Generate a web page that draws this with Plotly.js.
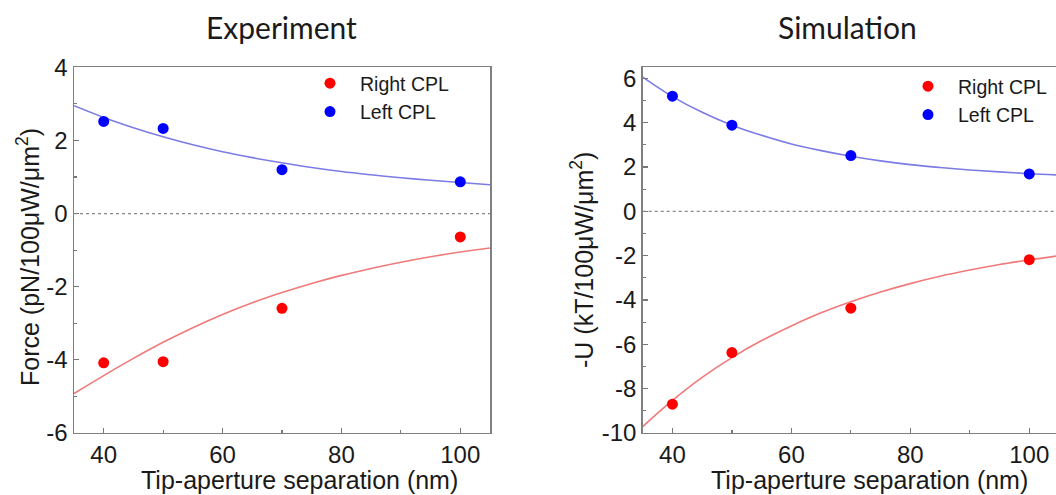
<!DOCTYPE html>
<html>
<head>
<meta charset="utf-8">
<script src="https://cdn.plot.ly/plotly-3.0.1.min.js"></script>
<style>
html,body{margin:0;padding:0;background:#fff;overflow:hidden;}
#chart{width:1070px;height:495px;}
</style>
</head>
<body>
<div id="chart"></div>
<script>
// Measured points
const separation = [40, 50, 70, 100];
const expRight = [-4.08, -4.05, -2.59, -0.64];
const expLeft = [2.52, 2.33, 1.20, 0.87];
const simRight = [-8.70, -6.37, -4.37, -2.18];
const simLeft = [5.20, 3.89, 2.52, 1.69];

// Fit curves
const fitX = [35, 40, 45, 50, 55, 60, 65, 70, 75, 80, 85, 90, 95, 100, 105];
const expLeftFit = [2.95, 2.63, 2.35, 2.10, 1.88, 1.69, 1.53, 1.39, 1.26, 1.15, 1.06, 0.98, 0.91, 0.85, 0.79];
const expRightFit = [-4.92, -4.43, -3.96, -3.52, -3.12, -2.76, -2.44, -2.16, -1.91, -1.69, -1.50, -1.33, -1.18, -1.05, -0.94];
const simLeftFit = [6.06, 5.18, 4.47, 3.89, 3.43, 3.04, 2.74, 2.49, 2.28, 2.11, 1.98, 1.87, 1.78, 1.70, 1.64];
const simRightFit = [-9.71, -8.53, -7.49, -6.60, -5.83, -5.17, -4.58, -4.08, -3.64, -3.26, -2.93, -2.65, -2.40, -2.19, -2.00];

// Tick labels
const xTickVals = [40, 60, 80, 100];
const xTickText = ['40', '60', '80', '100'];
const expYTickVals = [-6, -4, -2, 0, 2, 4];
const expYTickText = ['-6', '-4', '-2', '0', '2', '4'];
const simYTickVals = [-10, -8, -6, -4, -2, 0, 2, 4, 6];
const simYTickText = ['-10', '-8', '-6', '-4', '-2', '0', '2', '4', '6'];

const seriesNames = ['Right CPL', 'Left CPL'];
const panelTitles = ['Experiment', 'Simulation'];
const xTitle = 'Tip-aperture separation (nm)';
const yTitles = ['Force (pN/100μW/μm<sup>2</sup>)', '-U (kT/100μW/μm<sup>2</sup>)'];

const RED = '#ff0000', BLUE = '#0000ff';
const RED_LINE = '#f07a7a', BLUE_LINE = '#7c7ce6';
const tickFont = {family: 'Liberation Sans, Arial, sans-serif', size: 24, color: '#1a1a1a'};

function fit(x, y, color, xa, ya) {
  return {x: x, y: y, xaxis: xa, yaxis: ya, mode: 'lines', type: 'scatter',
    line: {color: color, width: 1.6, shape: 'spline'}, showlegend: false, hoverinfo: 'skip'};
}
function pts(x, y, color, name, xa, ya, lg) {
  return {x: x, y: y, xaxis: xa, yaxis: ya, mode: 'markers', type: 'scatter', name: name,
    marker: {color: color, size: 11}, legend: lg};
}

const traces = [
  fit(fitX, expLeftFit, BLUE_LINE, 'x', 'y'),
  fit(fitX, expRightFit, RED_LINE, 'x', 'y'),
  pts(separation, expRight, RED, seriesNames[0], 'x', 'y', 'legend'),
  pts(separation, expLeft, BLUE, seriesNames[1], 'x', 'y', 'legend'),
  fit(fitX, simLeftFit, BLUE_LINE, 'x2', 'y2'),
  fit(fitX, simRightFit, RED_LINE, 'x2', 'y2'),
  pts(separation, simRight, RED, seriesNames[0], 'x2', 'y2', 'legend2'),
  pts(separation, simLeft, BLUE, seriesNames[1], 'x2', 'y2', 'legend2')
];

function xax(domain, anchor) {
  return {domain: domain, anchor: anchor, range: [35, 105],
    tickmode: 'array', tickvals: xTickVals, ticktext: xTickText,
    ticks: 'inside', ticklen: 5, tickwidth: 1.2, tickcolor: '#777',
    minor: {tickmode: 'linear', ticks: 'inside', ticklen: 3, dtick: 10, tick0: 0, tickcolor: '#777'},
    showline: true, mirror: true, linecolor: '#808080', linewidth: 1.5,
    showgrid: false, zeroline: false, tickfont: tickFont};
}
function yax(range, anchor, vals, text) {
  return {domain: [0.1253, 0.864], anchor: anchor, range: range,
    tickmode: 'array', tickvals: vals, ticktext: text,
    ticks: 'inside', ticklen: 5, tickwidth: 1.2, tickcolor: '#777',
    minor: {tickmode: 'linear', ticks: 'inside', ticklen: 3, dtick: 1, tick0: 0, tickcolor: '#777'},
    showline: true, mirror: true, linecolor: '#808080', linewidth: 1.5,
    showgrid: false, zeroline: false, tickfont: tickFont};
}

const W = 1070, H = 495;
const legFont = {family: 'Liberation Sans, Arial, sans-serif', size: 19.5, color: '#1a1a1a'};
const titleFont = {family: 'Lato, Open Sans, sans-serif', size: 30, color: '#1a1a1a'};
const axFont = {family: 'Liberation Sans, Arial, sans-serif', size: 25, color: '#1a1a1a'};

const layout = {
  width: W, height: H,
  margin: {l: 0, r: 0, t: 0, b: 0},
  paper_bgcolor: '#fff', plot_bgcolor: '#fff',
  xaxis: xax([74 / W, 490 / W], 'y'),
  yaxis: yax([-6, 4], 'x', expYTickVals, expYTickText),
  xaxis2: xax([642.7 / W, 1059 / W], 'y2'),
  yaxis2: yax([-10, 6.5], 'x2', simYTickVals, simYTickText),
  legend: {x: 300 / W, y: 1 - 64 / H, xanchor: 'left', yanchor: 'top', itemwidth: 50,
    font: legFont, bgcolor: 'rgba(0,0,0,0)', tracegroupgap: 0},
  legend2: {x: 898 / W, y: 1 - 67 / H, xanchor: 'left', yanchor: 'top', itemwidth: 50,
    font: legFont, bgcolor: 'rgba(0,0,0,0)', tracegroupgap: 0},
  shapes: [
    {type: 'line', xref: 'x domain', yref: 'y', x0: 0, x1: 1, y0: 0, y1: 0,
      line: {color: '#888', width: 1.2, dash: 'dot'}},
    {type: 'line', xref: 'x2 domain', yref: 'y2', x0: 0, x1: 1, y0: 0, y1: 0,
      line: {color: '#888', width: 1.2, dash: 'dot'}}
  ],
  annotations: [
    {text: panelTitles[0], x: 281.7 / W, y: 1 - 27 / H, xref: 'paper', yref: 'paper',
      xanchor: 'center', yanchor: 'middle', showarrow: false, font: titleFont},
    {text: panelTitles[1], x: 847.7 / W, y: 1 - 27 / H, xref: 'paper', yref: 'paper',
      xanchor: 'center', yanchor: 'middle', showarrow: false, font: titleFont},
    {text: xTitle, x: 299.5 / W, y: 1 - 480 / H, xref: 'paper', yref: 'paper',
      xanchor: 'center', yanchor: 'middle', showarrow: false, font: axFont},
    {text: xTitle, x: 869 / W, y: 1 - 480 / H, xref: 'paper', yref: 'paper',
      xanchor: 'center', yanchor: 'middle', showarrow: false, font: axFont},
    {text: yTitles[0], x: 28 / W, y: 1 - 257 / H, xref: 'paper', yref: 'paper', textangle: -90,
      xanchor: 'center', yanchor: 'middle', showarrow: false, font: axFont},
    {text: yTitles[1], x: 582 / W, y: 1 - 260 / H, xref: 'paper', yref: 'paper', textangle: -90,
      xanchor: 'center', yanchor: 'middle', showarrow: false, font: axFont}
  ]
};

Plotly.newPlot('chart', traces, layout, {staticPlot: true, displayModeBar: false});
</script>
</body>
</html>
